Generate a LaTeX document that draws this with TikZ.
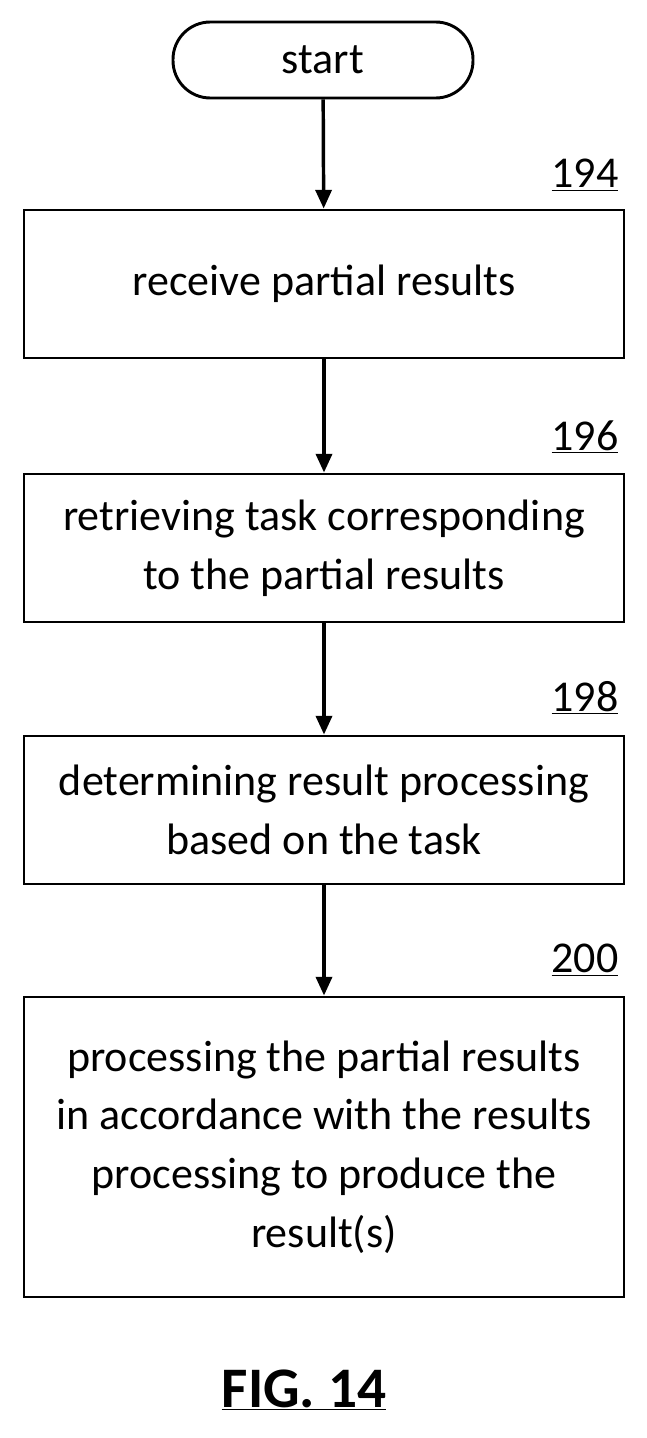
\documentclass[tikz,border=0pt]{standalone}
\usepackage{fontspec}
\setmainfont{Carlito}
\usetikzlibrary{arrows.meta}
\begin{document}
\begin{tikzpicture}[x=0.75pt,y=0.75pt,yscale=-1,xscale=1,
  box/.style={draw,line width=2.2pt,minimum width=450pt,align=center,font=\fontsize{33}{44}\selectfont},
  flow/.style={line width=2.6pt,-{Triangle[length=14pt,width=12pt]}},
  ref/.style={font=\fontsize{33}{36}\selectfont}]
\useasboundingbox (0,0) rectangle (646,1438);

%Terminal: start
\node [draw,line width=2.2pt,rounded corners=28pt,minimum width=225pt,minimum height=57pt,font=\fontsize{33}{40}\selectfont] (start) at (323,60) {start};
%Steps
\node [box,minimum height=111pt] (recv) at (324,284) {receive partial results};
\node [box,minimum height=111pt] (task) at (324,548) {retrieving task corresponding\\to the partial results};
\node [box,minimum height=111pt] (proc) at (324,810) {determining result processing\\based on the task};
\node [box,minimum height=225pt] (res) at (324,1147) {processing the partial results\\in accordance with the results\\processing to produce the\\result(s)};

% Reference numbers
\node [ref] (n194) at (585,175) {\underline{194}};
\node [ref] (n196) at (585,437) {\underline{196}};
\node [ref] (n198) at (585,698) {\underline{198}};
\node [ref] (n200) at (585,960) {\underline{200}};

%Connectors
\draw [flow] (start) -- (recv);
\draw [flow] (recv) -- (task);
\draw [flow] (task) -- (proc);
\draw [flow] (proc) -- (res);

% Caption
\node [font=\bfseries\fontsize{43}{46}\selectfont] (fig) at (304,1390) {\underline{FIG. 14}};
\end{tikzpicture}
\end{document}
